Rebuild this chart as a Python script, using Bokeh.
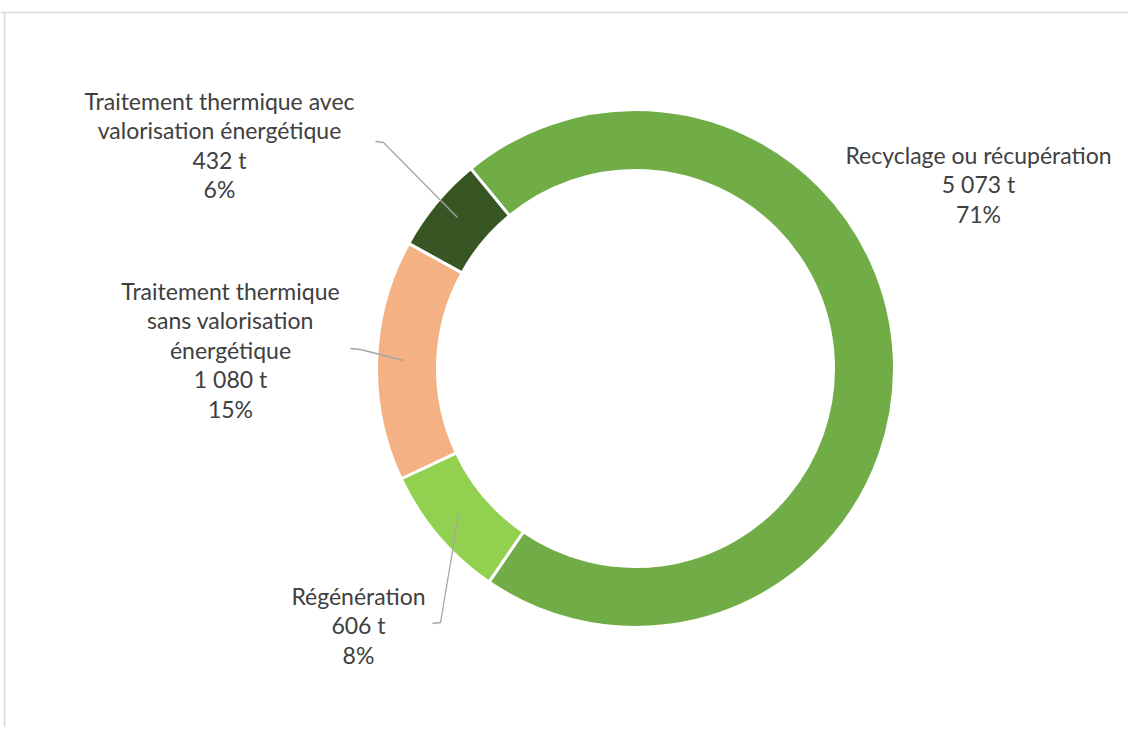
import math
from bokeh.plotting import figure
from bokeh.models import Range1d, ColumnDataSource
from bokeh.core.properties import value
from bokeh.embed import file_html
from bokeh.resources import INLINE

# ---- data ----
categories = [
    "Recyclage ou récupération",
    "Régénération",
    "Traitement thermique sans valorisation énergétique",
    "Traitement thermique avec valorisation énergétique",
]
tonnes = [5073, 606, 1080, 432]
label_names = [
    ["Recyclage ou récupération"],
    ["Régénération"],
    ["Traitement thermique", "sans valorisation", "énergétique"],
    ["Traitement thermique avec", "valorisation énergétique"],
]
colors = ["#70AD47", "#92D050", "#F4B183", "#375623"]

# ---- layout (screen pixels) ----
W, H = 1128, 727
OX, OY = 0, 0
def sx(x):
    return x - OX
def sy(y):
    return H - (y - OY)

CX, CY = 635, 368
R_OUT, R_IN = 259, 198
FIRST_ANGLE = 129.5  # degrees, math convention

label_pos = [  # center x, first line y (screen)
    (978, 154),
    (358, 595),
    (230, 290),
    (219, 100),
]
leaders = [
    None,
    [(432, 623), (440, 622), (458, 515)],
    [(350, 348), (360, 349), (403, 360)],
    [(375, 141), (383, 142), (457, 217)],
]
LINE_H = 29.5

p = figure(width=W, height=H, x_range=Range1d(0, W), y_range=Range1d(0, H),
           output_backend="svg", toolbar_location=None, min_border=0,
           x_axis_type=None, y_axis_type=None)
p.grid.visible = False
p.outline_line_color = None
p.background_fill_color = "white"
p.border_fill_color = "white"

total = sum(tonnes)
starts, ends = [], []
cum = 0.0
for v in tonnes:
    s = FIRST_ANGLE - cum / total * 360
    e = s - v / total * 360
    starts.append(math.radians(s))
    ends.append(math.radians(e))
    cum += v

src = ColumnDataSource(dict(start=starts, end=ends, color=colors, cat=categories))
p.annular_wedge(x=sx(CX), y=sy(CY), inner_radius=R_IN, outer_radius=R_OUT,
                start_angle="start", end_angle="end", direction="clock",
                fill_color="color", line_color="white", line_width=3, source=src)

# leader lines
for ld in leaders:
    if ld:
        p.line([sx(a) for a, b in ld], [sy(b) for a, b in ld],
               line_color="#A6A6A6", line_width=1.3)

# labels
tx, ty, tt = [], [], []
for names, v, (lx, ly) in zip(label_names, tonnes, label_pos):
    pct = round(100 * v / total)
    t = f"{v:,}".replace(",", " ") + " t"
    lines = names + [t, f"{pct}%"]
    for i, ln in enumerate(lines):
        tx.append(sx(lx))
        ty.append(sy(ly + i * LINE_H))
        tt.append(ln)
p.text(x=tx, y=ty, text=tt, text_align="center", text_baseline="middle",
       text_font=value("Lato"), text_font_size="23px", text_color="#404040")

# chart border (top and left visible)
p.segment(x0=[0, sx(4)], y0=[sy(12), 0], x1=[W, sx(4)], y1=[sy(12), sy(12)],
          line_color="#D9D9D9", line_width=1.5)

open("out.html", "w").write(file_html(p, INLINE))
